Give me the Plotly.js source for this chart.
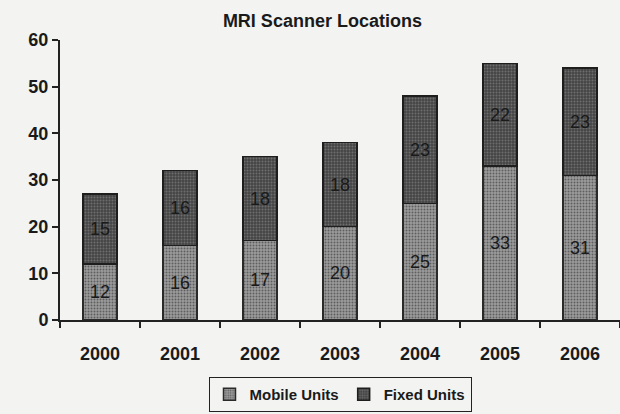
<!DOCTYPE html>
<html><head><meta charset="utf-8">
<script src="https://cdn.plot.ly/plotly-3.0.1.min.js"></script>
<style>html,body{margin:0;padding:0;background:#f3f3f1;}#chart{width:620px;height:414px;}</style>
</head><body><div id="chart"></div>
<script>
const years = ["2000","2001","2002","2003","2004","2005","2006"];
const mobileUnits = [12,16,17,20,25,33,31];
const fixedUnits = [15,16,18,18,23,22,23];
const yTicks = [0,10,20,30,40,50,60];

const font = {family:"Liberation Sans, Arial, sans-serif", color:"#1a1a1a"};
const traces = [
  {type:"bar", name:"Mobile Units", x:years, y:mobileUnits, text:mobileUnits.map(String),
   textposition:"inside", insidetextanchor:"middle", textangle:0,
   textfont:{family:font.family, size:18, color:"#1a1a1a"},
   marker:{color:"#8e8e8e", line:{color:"#2a2a2a", width:1.5},
     pattern:{shape:".", fgcolor:"#5e5e5e", bgcolor:"#9c9c9c", size:3, solidity:0.35}}},
  {type:"bar", name:"Fixed Units", x:years, y:fixedUnits, text:fixedUnits.map(String),
   textposition:"inside", insidetextanchor:"middle", textangle:0,
   textfont:{family:font.family, size:18, color:"#1a1a1a"},
   marker:{color:"#4a4a4a", line:{color:"#1e1e1e", width:1.5},
     pattern:{shape:".", fgcolor:"#6e6e6e", bgcolor:"#454545", size:3, solidity:0.35}}}
];
const layout = {
  width:620, height:414, barmode:"stack", bargap:0.58,
  paper_bgcolor:"#f3f3f1", plot_bgcolor:"#f3f3f1",
  margin:{l:60, r:0, t:40, b:94, autoexpand:false},
  font:font,
  title:{text:"<b>MRI Scanner Locations</b>", x:0.52, xanchor:"center", y:0.95, yanchor:"middle",
    font:{family:font.family, size:18, color:"#1a1a1a"}},
  showlegend:true,
  legend:{orientation:"h", x:0.5, xanchor:"center", yref:"container", y:0.005, yanchor:"bottom",
    bordercolor:"#222", borderwidth:1, bgcolor:"#f3f3f1",
    font:{family:font.family, size:15, color:"#1a1a1a", weight:"bold"},
    itemwidth:30, traceorder:"normal", tracegroupgap:0},
  xaxis:{type:"category", showline:true, linecolor:"#222", linewidth:2, automargin:false,
    ticks:"outside", tickson:"boundaries", ticklen:6, tickcolor:"#222", tickwidth:2,
    tickfont:{family:font.family, size:18, color:"#1a1a1a", weight:"bold"}, ticklabelstandoff:16,
    showgrid:false, zeroline:false},
  yaxis:{range:[0,60], tickvals:yTicks, ticktext:yTicks.map(String), showline:true, linecolor:"#222", linewidth:2,
    automargin:false, ticks:"outside", ticklen:6, tickcolor:"#222", tickwidth:2,
    tickfont:{family:font.family, size:18, color:"#1a1a1a", weight:"bold"},
    showgrid:false, zeroline:false}
};
Plotly.newPlot("chart", traces, layout, {staticPlot:true});
</script></body></html>
